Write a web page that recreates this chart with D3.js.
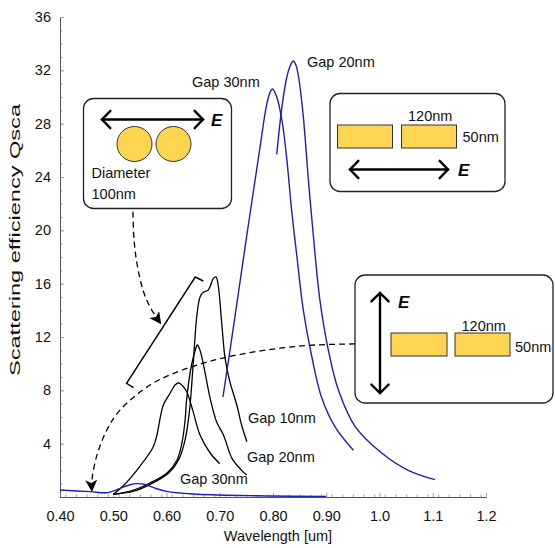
<!DOCTYPE html>
<html><head><meta charset="utf-8">
<script src="https://cdn.jsdelivr.net/npm/d3@7"></script>
<style>
html,body{margin:0;padding:0;background:#fff;}
svg{display:block;font-family:"Liberation Sans",Arial,sans-serif;}
</style></head><body>
<svg id="chart" width="555" height="548"></svg>
<script>
// ---------- axis ticks ----------
const xTickValues = [0.4, 0.5, 0.6, 0.7, 0.8, 0.9, 1.0, 1.1, 1.2];
const xTickLabels = ["0.40", "0.50", "0.60", "0.70", "0.80", "0.90", "1.0", "1.1", "1.2"];
const yTickValues = [4, 8, 12, 16, 20, 24, 28, 32, 36];
const yTickLabels = ["4", "8", "12", "16", "20", "24", "28", "32", "36"];

// ---------- nanorods, E parallel (blue) ----------
const rodGap30Wl = [0.706, 0.720, 0.735, 0.750, 0.765, 0.777, 0.787, 0.794, 0.799, 0.807, 0.817, 0.826, 0.835, 0.845, 0.857, 0.873, 0.891, 0.916, 0.951];
const rodGap30Q  = [7.5, 11.2, 15.3, 19.4, 23.4, 26.6, 29.2, 30.3, 30.6, 30.0, 28.2, 25.3, 21.5, 18.0, 14.0, 10.5, 7.5, 5.3, 3.5];
const rodGap20Wl = [0.807, 0.816, 0.826, 0.833, 0.838, 0.843, 0.848, 0.857, 0.866, 0.876, 0.888, 0.904, 0.923, 0.954, 1.004, 1.054, 1.104];
const rodGap20Q  = [25.7, 29.0, 31.5, 32.4, 32.7, 32.4, 31.5, 28.5, 24.0, 19.5, 14.8, 11.0, 8.0, 5.3, 3.3, 2.0, 1.3];
// ---------- nanorods, E perpendicular (blue, near zero) ----------
const rodPerpWl = [0.40, 0.456, 0.490, 0.513, 0.532, 0.545, 0.558, 0.577, 0.600, 0.650, 0.750, 0.900];
const rodPerpQ  = [0.52, 0.40, 0.33, 0.65, 0.92, 1.0, 0.96, 0.68, 0.42, 0.22, 0.10, 0.05];

// ---------- nanospheres (black) ----------
const sphGap10Wl = [0.502, 0.540, 0.572, 0.604, 0.624, 0.635, 0.643, 0.650, 0.657, 0.663, 0.669, 0.678, 0.682, 0.688, 0.693, 0.697, 0.704, 0.710, 0.719, 0.732, 0.741, 0.751];
const sphGap10Q  = [0.2, 0.45, 1.0, 1.8, 2.9, 4.3, 6.4, 9.9, 13.6, 15.0, 15.35, 15.5, 15.8, 16.4, 16.5, 15.9, 12.9, 10.4, 8.65, 6.9, 5.4, 4.15];
const sphGap20Wl = [0.500, 0.537, 0.569, 0.601, 0.620, 0.629, 0.635, 0.638, 0.647, 0.654, 0.658, 0.663, 0.672, 0.682, 0.694, 0.707, 0.723, 0.741, 0.751];
const sphGap20Q  = [0.2, 0.5, 1.05, 1.8, 2.8, 4.05, 5.8, 7.4, 9.9, 11.0, 11.4, 11.0, 9.4, 7.4, 5.65, 4.65, 2.9, 2.0, 1.65];
const sphGap30Wl = [0.500, 0.518, 0.550, 0.575, 0.582, 0.594, 0.607, 0.616, 0.623, 0.630, 0.638, 0.650, 0.663, 0.682, 0.700];
const sphGap30Q  = [0.2, 0.8, 2.3, 3.75, 4.65, 6.9, 7.8, 8.4, 8.55, 8.35, 7.9, 6.4, 4.65, 3.3, 2.5];

// ---------- annotation geometry (data units) ----------
const bracketWl = [0.538, 0.525, 0.654, 0.669];
const bracketQ  = [8.2, 8.53, 16.5, 16.2];
const arrowSphWl = [0.537, 0.539, 0.545, 0.556, 0.569, 0.590];
const arrowSphQ  = [21.4, 19.3, 17.4, 15.5, 14.25, 12.95];
const arrowRodWl = [0.954, 0.879, 0.817, 0.753, 0.691, 0.625, 0.569, 0.513, 0.488, 0.469, 0.460, 0.460];
const arrowRodQ  = [11.48, 11.40, 11.18, 10.80, 10.28, 9.45, 8.40, 6.53, 5.03, 3.08, 1.28, 0.38];

const curveLabels = ["Gap 30nm", "Gap 20nm", "Gap 10nm", "Gap 20nm", "Gap 30nm"];

// ================= drawing =================
const svg = d3.select("#chart");
const x = d3.scaleLinear().domain([0.4, 1.2]).range([60, 486]);
const y = d3.scaleLinear().domain([0, 36]).range([497, 17]);
const BLUE = "#1c1cc8";
const GOLD = "#fdd552";
const FS = "14.5px";

const zip = (a, b) => a.map((v, i) => [v, b[i]]);

// defs: arrow marker
const defs = svg.append("defs");
defs.append("marker").attr("id", "ah").attr("markerUnits", "userSpaceOnUse")
  .attr("markerWidth", 14).attr("markerHeight", 14).attr("refX", 12).attr("refY", 6)
  .attr("orient", "auto")
  .append("path").attr("d", "M0,0 L12,6 L0,12 L3,6 Z").attr("fill", "#000");

// axes
const axG = svg.append("g").attr("class", "axes");
const yAxis = d3.axisLeft(y).tickValues(yTickValues).tickFormat((d, i) => yTickLabels[i])
  .tickSizeInner(-4).tickSizeOuter(0).tickPadding(9);
const yMinor = d3.axisLeft(y).tickValues(d3.range(1, 36, 1)).tickFormat("").tickSizeInner(-2.5).tickSizeOuter(0);
const xAxis = d3.axisBottom(x).tickValues(xTickValues).tickFormat((d, i) => xTickLabels[i])
  .tickSizeInner(-4).tickSizeOuter(0).tickPadding(14);
const xMinor = d3.axisBottom(x).tickValues(d3.range(0.41, 1.2, 0.02)).tickFormat("").tickSizeInner(-2.5).tickSizeOuter(0);

function styleAxis(g) {
  g.select(".domain").attr("stroke", "#555").attr("stroke-width", 1);
  g.selectAll(".tick line").attr("stroke", "#888").attr("stroke-width", 0.8);
  g.selectAll("text").attr("fill", "#111").style("font-size", FS).style("font-family", "Liberation Sans, Arial, sans-serif");
}
axG.append("g").attr("transform", "translate(60,0)").call(yMinor).call(styleAxis);
axG.append("g").attr("transform", "translate(60,0)").call(yAxis).call(styleAxis);
axG.append("g").attr("transform", "translate(0,497)").call(xMinor).call(styleAxis);
axG.append("g").attr("transform", "translate(0,497)").call(xAxis).call(styleAxis);

svg.append("text").attr("x", 278).attr("y", 541).attr("text-anchor", "middle")
  .style("font-size", FS).attr("fill", "#111").text("Wavelength [um]");
svg.append("text").attr("transform", "translate(20,240) rotate(-90)").attr("text-anchor", "middle")
  .attr("textLength", 272).attr("lengthAdjust", "spacingAndGlyphs")
  .style("font-size", "15px").attr("fill", "#111").text("Scattering efficiency Qsca");

// curves
const lineC = d3.line().x(d => x(d[0])).y(d => y(d[1])).curve(d3.curveCatmullRom.alpha(0.5));
const lineL = d3.line().x(d => x(d[0])).y(d => y(d[1]));
const plot = svg.append("g");

[[sphGap30Wl, sphGap30Q], [sphGap20Wl, sphGap20Q], [sphGap10Wl, sphGap10Q]].forEach(([w, q]) => {
  plot.append("path").attr("d", lineC(zip(w, q))).attr("fill", "none")
    .attr("stroke", "#000").attr("stroke-width", 1.3);
});
[[rodPerpWl, rodPerpQ], [rodGap30Wl, rodGap30Q], [rodGap20Wl, rodGap20Q]].forEach(([w, q]) => {
  plot.append("path").attr("d", lineC(zip(w, q))).attr("fill", "none")
    .attr("stroke", BLUE).attr("stroke-width", 1.4);
});

// bracket
plot.append("path").attr("d", lineL(zip(bracketWl, bracketQ))).attr("fill", "none")
  .attr("stroke", "#000").attr("stroke-width", 1.4);

// dashed arrows
plot.append("path").attr("d", lineC(zip(arrowSphWl, arrowSphQ))).attr("fill", "none")
  .attr("stroke", "#000").attr("stroke-width", 1.3).attr("stroke-dasharray", "6,4")
  .attr("marker-end", "url(#ah)");
plot.append("path").attr("d", lineC(zip(arrowRodWl, arrowRodQ))).attr("fill", "none")
  .attr("stroke", "#000").attr("stroke-width", 1.3).attr("stroke-dasharray", "6,4")
  .attr("marker-end", "url(#ah)");

// curve labels
const labelPos = [[192, 87], [307, 67], [248, 423], [247, 462], [180, 484]];
curveLabels.forEach((t, i) => {
  svg.append("text").attr("x", labelPos[i][0]).attr("y", labelPos[i][1])
    .style("font-size", FS).attr("fill", "#111").text(t);
});

// ---------- insets ----------
function dblArrow(g, x1, y1, x2, y2) {
  const ang = Math.atan2(y2 - y1, x2 - x1), h = 12, s = 0.8;
  g.append("line").attr("x1", x1).attr("y1", y1).attr("x2", x2).attr("y2", y2);
  const head = (px, py, a) => {
    const p1 = [px - h * Math.cos(a - s), py - h * Math.sin(a - s)];
    const p2 = [px - h * Math.cos(a + s), py - h * Math.sin(a + s)];
    g.append("path").attr("d", `M${p1[0]},${p1[1]} L${px},${py} L${p2[0]},${p2[1]}`).attr("fill", "none");
  };
  head(x2, y2, ang);
  head(x1, y1, ang + Math.PI);
}
function inset(x0, y0, w, h) {
  const g = svg.append("g");
  g.append("rect").attr("x", x0).attr("y", y0).attr("width", w).attr("height", h)
    .attr("rx", 10).attr("fill", "#fff").attr("stroke", "#222").attr("stroke-width", 1.3);
  return g;
}
function eLabel(g, ex, ey) {
  g.append("text").attr("x", ex).attr("y", ey).style("font-size", "17px")
    .style("font-weight", "bold").style("font-style", "italic").attr("fill", "#000").text("E");
}
function txt(g, tx, ty, t) {
  g.append("text").attr("x", tx).attr("y", ty).style("font-size", FS).attr("fill", "#111").text(t);
}

// inset 1: spheres
const in1 = inset(83.5, 98.5, 148, 110);
const a1 = in1.append("g").attr("stroke", "#000").attr("stroke-width", 2.4).attr("stroke-linecap", "round");
dblArrow(a1, 102, 119.5, 203, 119.5);
eLabel(in1, 211, 126);
in1.append("circle").attr("cx", 134.5).attr("cy", 144).attr("r", 17.5).attr("fill", GOLD).attr("stroke", "#333").attr("stroke-width", 1);
in1.append("circle").attr("cx", 173.5).attr("cy", 144).attr("r", 17.5).attr("fill", GOLD).attr("stroke", "#333").attr("stroke-width", 1);
txt(in1, 91.5, 177.5, "Diameter");
txt(in1, 91.5, 199, "100nm");

// inset 2: rods, E parallel
const in2 = inset(330, 93.5, 175, 98);
in2.append("rect").attr("x", 337.5).attr("y", 125).attr("width", 55).attr("height", 23).attr("fill", GOLD).attr("stroke", "#333").attr("stroke-width", 1);
in2.append("rect").attr("x", 401.5).attr("y", 125).attr("width", 55).attr("height", 23).attr("fill", GOLD).attr("stroke", "#333").attr("stroke-width", 1);
txt(in2, 408, 120.5, "120nm");
txt(in2, 462.5, 141.5, "50nm");
const a2 = in2.append("g").attr("stroke", "#000").attr("stroke-width", 2.4).attr("stroke-linecap", "round");
dblArrow(a2, 350, 169.5, 448, 169.5);
eLabel(in2, 458, 176);

// inset 3: rods, E perpendicular
const in3 = inset(355, 275, 198, 128);
const a3 = in3.append("g").attr("stroke", "#000").attr("stroke-width", 2.4).attr("stroke-linecap", "round");
dblArrow(a3, 380, 293, 380, 393);
eLabel(in3, 398, 308);
in3.append("rect").attr("x", 391).attr("y", 333).attr("width", 56).attr("height", 23).attr("fill", GOLD).attr("stroke", "#333").attr("stroke-width", 1);
in3.append("rect").attr("x", 455).attr("y", 333).attr("width", 55).attr("height", 23).attr("fill", GOLD).attr("stroke", "#333").attr("stroke-width", 1);
txt(in3, 461.5, 331, "120nm");
txt(in3, 515, 351.5, "50nm");
</script>
</body></html>
